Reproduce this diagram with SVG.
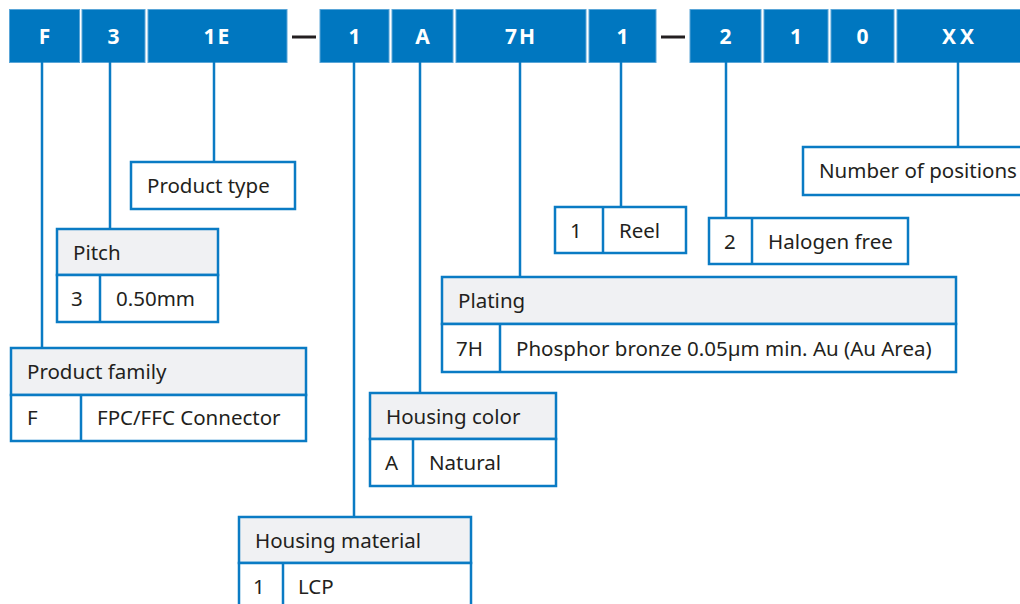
<svg xmlns="http://www.w3.org/2000/svg" width="1020" height="604" viewBox="0 0 1020 604">
<style>
.code{fill:#0077C0;stroke:#5AA6D8;stroke-width:1}
.ct{font-family:"Noto Sans","Open Sans",sans-serif;font-size:21px;font-weight:bold;fill:#fff;text-anchor:middle}
.box{fill:#fff;stroke:#0A7BC4;stroke-width:2.5}
.hdr{fill:#F0F1F3;stroke:#0A7BC4;stroke-width:2.5}
.ln{stroke:#0A7BC4;stroke-width:2.5;fill:none}
.t{font-family:"Noto Sans","Open Sans",sans-serif;font-size:20.5px;fill:#231F20}
.dash{stroke:#231F20;stroke-width:3}
</style>
<rect width="1020" height="604" fill="#fff"/>
<g id="code">
<rect class="code" x="9.5" y="9.5" width="70" height="53"/>
<rect class="code" x="82" y="9.5" width="63" height="53"/>
<rect class="code" x="148" y="9.5" width="139" height="53"/>
<rect class="code" x="320" y="9.5" width="69" height="53"/>
<rect class="code" x="392" y="9.5" width="61" height="53"/>
<rect class="code" x="456" y="9.5" width="130" height="53"/>
<rect class="code" x="589" y="9.5" width="67" height="53"/>
<rect class="code" x="690" y="9.5" width="71" height="53"/>
<rect class="code" x="764" y="9.5" width="64" height="53"/>
<rect class="code" x="831" y="9.5" width="63" height="53"/>
<rect class="code" x="897" y="9.5" width="130" height="53"/>
<line class="dash" x1="292" y1="37" x2="316" y2="37"/>
<line class="dash" x1="661" y1="37" x2="685" y2="37"/>
<text class="ct" x="44.5" y="44">F</text>
<text class="ct" x="113.5" y="44">3</text>
<text class="ct" x="217.5" y="44" letter-spacing="2">1E</text>
<text class="ct" x="354.5" y="44">1</text>
<text class="ct" x="422.5" y="44">A</text>
<text class="ct" x="521" y="44" letter-spacing="2">7H</text>
<text class="ct" x="622.5" y="44">1</text>
<text class="ct" x="725.5" y="44">2</text>
<text class="ct" x="796" y="44">1</text>
<text class="ct" x="862.5" y="44">0</text>
<text class="ct" x="960" y="44" letter-spacing="4">XX</text>
</g>
<g id="connectors">
<line class="ln" x1="42" y1="62" x2="42" y2="348"/>
<line class="ln" x1="110" y1="62" x2="110" y2="229"/>
<line class="ln" x1="214" y1="62" x2="214" y2="162"/>
<line class="ln" x1="354" y1="62" x2="354" y2="517"/>
<line class="ln" x1="420" y1="62" x2="420" y2="393"/>
<line class="ln" x1="520" y1="62" x2="520" y2="277"/>
<line class="ln" x1="621" y1="62" x2="621" y2="207"/>
<line class="ln" x1="726" y1="62" x2="726" y2="218"/>
<line class="ln" x1="958" y1="62" x2="958" y2="147"/>
</g>
<g id="product-type">
<rect class="box" x="131" y="162" width="164" height="47"/>
<text class="t" x="147" y="193">Product type</text>
</g>
<g id="pitch">
<rect class="hdr" x="57" y="229" width="161" height="46"/>
<rect class="box" x="57" y="275" width="161" height="47"/>
<line class="ln" x1="100" y1="275" x2="100" y2="322"/>
<text class="t" x="73" y="260">Pitch</text>
<text class="t" x="71" y="306">3</text>
<text class="t" x="116" y="306">0.50mm</text>
</g>
<g id="product-family">
<rect class="hdr" x="11" y="348" width="295" height="47"/>
<rect class="box" x="11" y="395" width="295" height="46"/>
<line class="ln" x1="81" y1="395" x2="81" y2="441"/>
<text class="t" x="27" y="379">Product family</text>
<text class="t" x="27" y="425">F</text>
<text class="t" x="97" y="425">FPC/FFC Connector</text>
</g>
<g id="housing-color">
<rect class="hdr" x="370" y="393" width="186" height="46"/>
<rect class="box" x="370" y="439" width="186" height="47"/>
<line class="ln" x1="413" y1="439" x2="413" y2="486"/>
<text class="t" x="386" y="424">Housing color</text>
<text class="t" x="385" y="470">A</text>
<text class="t" x="429" y="470">Natural</text>
</g>
<g id="housing-material">
<rect class="hdr" x="239" y="517" width="232" height="46"/>
<rect class="box" x="239" y="563" width="232" height="60"/>
<line class="ln" x1="283" y1="563" x2="283" y2="623"/>
<text class="t" x="255" y="548">Housing material</text>
<text class="t" x="253" y="594">1</text>
<text class="t" x="298" y="594">LCP</text>
</g>
<g id="plating">
<rect class="hdr" x="442" y="277" width="514" height="47"/>
<rect class="box" x="442" y="324" width="514" height="48"/>
<line class="ln" x1="500" y1="324" x2="500" y2="372"/>
<text class="t" x="458" y="308">Plating</text>
<text class="t" x="456" y="356">7H</text>
<text class="t" x="516" y="356">Phosphor bronze 0.05µm min. Au (Au Area)</text>
</g>
<g id="reel">
<rect class="box" x="555" y="207" width="131" height="46"/>
<line class="ln" x1="603" y1="207" x2="603" y2="253"/>
<text class="t" x="570" y="238">1</text>
<text class="t" x="619" y="238">Reel</text>
</g>
<g id="halogen">
<rect class="box" x="709" y="218" width="199" height="46"/>
<line class="ln" x1="752" y1="218" x2="752" y2="264"/>
<text class="t" x="724" y="249">2</text>
<text class="t" x="768" y="249">Halogen free</text>
</g>
<g id="number-of-positions">
<rect class="box" x="803" y="147" width="230" height="48"/>
<text class="t" x="819" y="178">Number of positions</text>
</g>
</svg>
